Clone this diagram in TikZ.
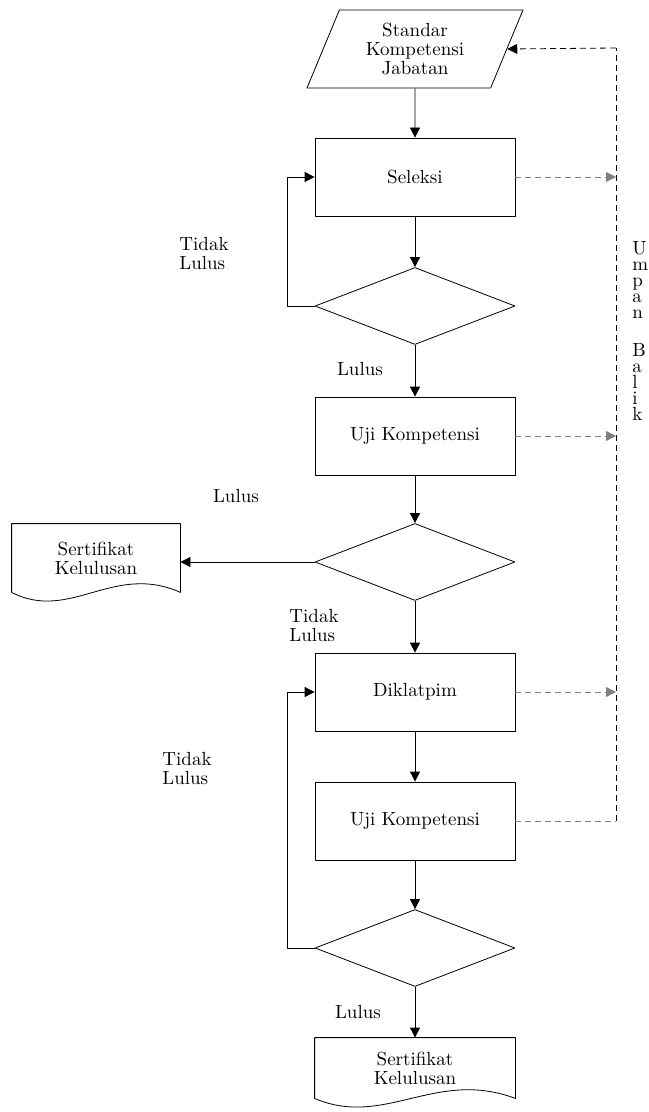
\documentclass[tikz,border=0pt]{standalone}
\usetikzlibrary{shapes.geometric,arrows.meta}
\begin{document}
\begin{tikzpicture}[x=0.5pt, y=-0.5pt, font=\fontsize{9.5}{9.5}\selectfont,
		line join=round, >={Triangle[length=5pt,width=5pt]},
		proses/.style={draw, minimum width=100pt, minimum height=39pt, inner sep=0pt},
		keputusan/.style={draw, diamond, aspect=2.6, minimum width=100pt, minimum height=38.5pt, inner sep=0pt},
		masukan/.style={draw, trapezium, trapezium left angle=58, trapezium right angle=122,
			trapezium stretches body, minimum width=108pt, minimum height=39pt, inner sep=0pt, align=center},
		dokumen/.style={inner sep=0pt, align=center},
		ket/.style={align=left, inner sep=0pt},
		tegak/.style={ket, anchor=north west, font=\fontsize{9.5}{8}\selectfont},
		alur/.style={->},
		umpan/.style={draw=gray, dash pattern=on 3pt off 2pt}]
	\useasboundingbox (0,0) rectangle (648,1112);
	% alur utama
	\node[masukan] (std) at (415,49) {Standar\\Kompetensi\\Jabatan};
	\node[proses] (sel) at (415,177) {Seleksi};
	\node[keputusan] (d1) at (415,306) {};
	\node[proses] (uji1) at (415,436) {Uji Kompetensi};
	\node[keputusan] (d2) at (415,562) {};
	\node[dokumen, minimum width=84pt, minimum height=34pt] (cert1) at (96,558) {Sertifikat\\Kelulusan};
	\node[proses] (dik) at (415,692) {Diklatpim};
	\node[proses] (uji2) at (415,821) {Uji Kompetensi};
	\node[keputusan] (d3) at (415,948) {};
	\node[dokumen, minimum width=100pt, minimum height=30pt] (cert2) at (415,1068) {Sertifikat\\Kelulusan};
	\foreach \d/\w in {cert1/84, cert2/100}{
		\draw (\d.south west) -- (\d.north west) -- (\d.north east) -- (\d.south east)
		.. controls +({-0.4*\w pt},15pt) and +({0.35*\w pt},-15pt) .. (\d.south west);
	}
	% keterangan
	\node[ket] (k1) at (204,254) {Tidak\\Lulus};
	\node[ket] (k2) at (360,369) {Lulus};
	\node[ket] (k3) at (236,496) {Lulus};
	\node[ket] (k4) at (314,626) {Tidak\\Lulus};
	\node[ket] (k5) at (187,769) {Tidak\\Lulus};
	\node[ket] (k6) at (358,1012) {Lulus};
	\node[tegak] (umpan1) at (632,241) {U\\m\\p\\a\\n};
	\node[tegak] (balik1) at (632,343) {B\\a\\l\\i\\k};
	% panah
	\draw[alur] (std) -- (sel);
	\draw[alur] (sel) -- (d1);
	\draw[alur] (d1) -- (uji1);
	\draw[alur] (d1.west) -- ++(-27,0) |- (sel.west);
	\draw[alur] (uji1) -- (d2);
	\draw[alur] (d2.west) -- (d2.west -| cert1.east);
	\draw[alur] (d2) -- (dik);
	\draw[alur] (dik) -- (uji2);
	\draw[alur] (uji2) -- (d3);
	\draw[alur] (d3.west) -- ++(-27,0) |- (dik.west);
	\draw[alur] (d3) -- (cert2);
	% umpan balik
	\coordinate (fb) at (616,48);
	\foreach \n in {sel,uji1,dik}{
		\draw[umpan, ->] (\n.east) -- (\n.east -| fb);
	}
	\draw[umpan] (uji2.east) -- (uji2.east -| fb);
	\draw[dash pattern=on 3pt off 2pt] (uji2.east -| fb) -- (fb);
	\draw[->, dash pattern=on 3pt off 2pt] (fb) -- (std.east);
\end{tikzpicture}
\end{document}
